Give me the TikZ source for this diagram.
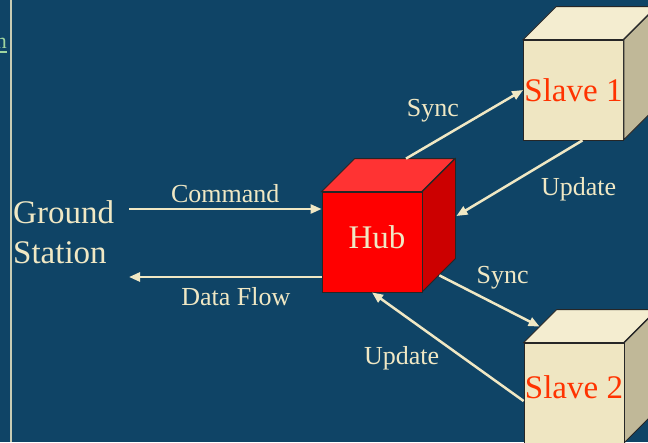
\documentclass[tikz,border=0pt]{standalone}
\usepackage{fontspec}
\setmainfont{Liberation Serif}
\usetikzlibrary{arrows.meta}
\definecolor{slidebg}{HTML}{0F4466}
\definecolor{cream}{HTML}{F0E8C4}
\definecolor{rulegray}{HTML}{C8CCB4}
\definecolor{linkgreen}{HTML}{9FD49F}
\definecolor{hubfront}{HTML}{FF0000}
\definecolor{hubtop}{HTML}{FF3333}
\definecolor{hubside}{HTML}{CC0000}
\definecolor{slavefront}{HTML}{EFE6C2}
\definecolor{slavetop}{HTML}{F4EDD0}
\definecolor{slaveside}{HTML}{C0B898}
\definecolor{slavered}{HTML}{FF3300}
\begin{document}
\begin{tikzpicture}[x=1pt,y=-1pt,
  face/.style={draw=black!85, line width=0.8pt, line join=miter},
  cube/.style={face, minimum width=100pt, minimum height=100pt, inner sep=0pt},
  big/.style={font=\fontsize{33}{40}\selectfont, inner sep=0pt},
  small/.style={font=\fontsize{26}{30}\selectfont, text=cream, inner sep=2pt},
  flow/.style={draw=cream, line width=2.5pt, -{Triangle[length=11pt,width=9pt]}}]
\clip (0,0) rectangle (648,442);
\fill[slidebg] (0,0) rectangle (648,442);
\draw[rulegray, line width=1.5pt] (11,0) -- (11,442);
\node[text=linkgreen, anchor=base east, inner sep=0pt, font=\fontsize{22}{24}\selectfont] (link) at (7,48) {n};
\draw[linkgreen, line width=1.6pt] ([yshift=-4pt]link.base west) -- ([yshift=-4pt]link.base east);

% ground station
\node[big, text=cream, align=left, anchor=west] (ground) at (13,232) {Ground\\Station};

% hub cube
\node[cube, fill=hubfront] (hub) at (372,242) {};
\filldraw[face, fill=hubtop] (hub.north west) -- ++(33,-33) -- ++(100,0) -- ++(-33,33) -- cycle;
\filldraw[face, fill=hubside] (hub.north east) -- ++(33,-33) -- ++(0,100) -- ++(-33,33) -- cycle;
\node[big, text=cream] (hublabel) at ([shift={(5,-5)}]hub.center) {Hub};

% slave cubes
\node[cube, fill=slavefront] (slave1) at (573.5,90) {};
\filldraw[face, fill=slavetop] (slave1.north west) -- ++(33,-33) -- ++(100,0) -- ++(-33,33) -- cycle;
\filldraw[face, fill=slaveside] (slave1.north east) -- ++(33,-33) -- ++(0,100) -- ++(-33,33) -- cycle;
\node[big, text=slavered] (slave1label) at (slave1.center) {Slave 1};

\node[cube, fill=slavefront] (slave2) at (574,393) {};
\filldraw[face, fill=slavetop] (slave2.north west) -- ++(33,-33) -- ++(100,0) -- ++(-33,33) -- cycle;
\filldraw[face, fill=slaveside] (slave2.north east) -- ++(33,-33) -- ++(0,100) -- ++(-33,33) -- cycle;
\node[big, text=slavered] (slave2label) at ([shift={(0,-6)}]slave2.center) {Slave 2};

% links
\coordinate (cmdstart) at (129,209);
\coordinate (dataend) at (129,277);
\draw[flow] (cmdstart) -- (cmdstart -| hub.west) node[small, midway, above=3pt] {Command};
\draw[flow] (dataend -| hub.west) -- (dataend) node[small, pos=0.445, below=7pt] {Data Flow};
\draw[flow] ([shift={(34,-33)}]hub.north) -- (slave1.west) node[small, pos=0.48, anchor=south east] {Sync};
\draw[flow] ([xshift=9pt]slave1.south) -- ([shift={(34,-26)}]hub.east) node[small, pos=0.03, below=32pt] {Update};
\draw[flow] ([shift={(17,-17)}]hub.south east) -- ([shift={(16,-16)}]slave2.north west) node[small, pos=0.34, anchor=south west] {Sync};
\draw[flow] ([shift={(0,8)}]slave2.west) -- (hub.south) node[small, pos=0.536, anchor=north east] {Update};
\end{tikzpicture}
\end{document}
